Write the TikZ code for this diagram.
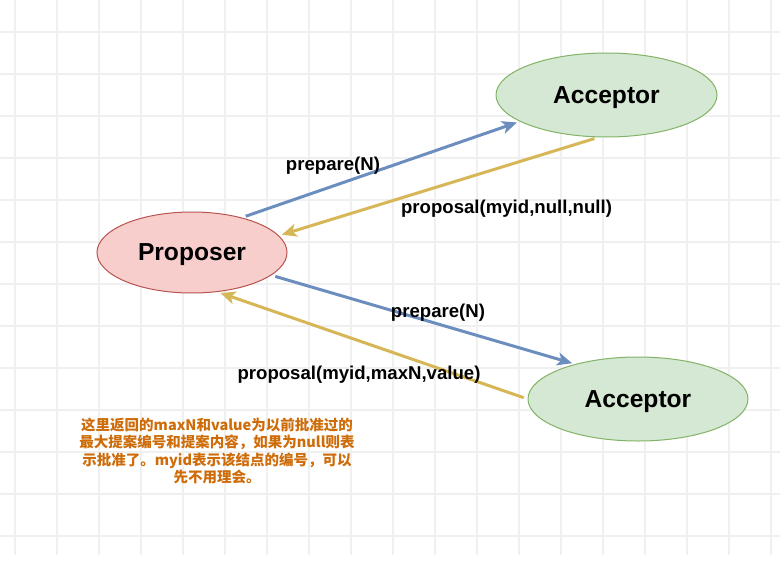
\documentclass[tikz,border=0pt]{standalone}
\usepackage{fontspec}
\setmainfont{Liberation Sans}
\newfontfamily\cjk{Noto Sans CJK SC}
\usepackage{tikz}
\usetikzlibrary{arrows.meta, shapes.geometric}
\definecolor{propfill}{RGB}{248,206,204}
\definecolor{propline}{RGB}{184,84,80}
\definecolor{accfill}{RGB}{213,232,212}
\definecolor{accline}{RGB}{130,179,102}
\definecolor{reqblue}{RGB}{108,142,191}
\definecolor{ansgold}{RGB}{214,182,86}
\definecolor{notebrown}{RGB}{206,108,10}
\definecolor{gridgray}{RGB}{240,240,240}
\tikzstyle{role}=[ellipse, inner sep=0pt, line width=0.5pt, text depth=0pt, font=\fontsize{12.3}{14}\selectfont\bfseries]
\tikzstyle{request}=[draw=reqblue, line width=1.5pt, -{Stealth[length=7.5pt, width=6.5pt, inset=2pt]}, shorten >=1.5pt, shorten <=2pt]
\tikzstyle{answer}=[draw=ansgold, line width=1.5pt, -{Stealth[length=7.5pt, width=6.5pt, inset=2pt]}, shorten >=1.5pt, shorten <=2pt]
\tikzstyle{msg}=[font=\fontsize{9.3}{11}\selectfont\bfseries, inner sep=0pt, text depth=0pt]

\begin{document}
\begin{tikzpicture}[x=0.5pt, y=0.5pt]
	\useasboundingbox (0,0) rectangle (780,569);
	\fill[white] (0,0) rectangle (780,569);
	% grid
	\foreach \gx in {0,...,18}
		\draw[gridgray, line width=0.7pt] (15+42*\gx, 14) -- (15+42*\gx, 569);
	\foreach \gy in {0,...,12}
		\draw[gridgray, line width=0.7pt] (0, 537-42*\gy) -- (780, 537-42*\gy);

	\begin{scope}
		\node (prop) at (192, 316.5)[role, draw=propline, fill=propfill, minimum width=95pt, minimum height=40.5pt] {Proposer};
		\node (acc1) at (606.5, 474)[role, draw=accline, fill=accfill, minimum width=110.5pt, minimum height=42pt] {Acceptor};
		\node (acc2) at (638, 170)[role, draw=accline, fill=accfill, minimum width=110pt, minimum height=42pt] {Acceptor};
	\end{scope}

	\begin{scope}
		\draw[request] (prop.35) -- (acc1.197);
		\draw[answer] (acc1.259) -- (prop.11);
		\draw[request] (prop.-16) -- (acc2.151);
		\draw[answer] (acc2.west) -- (prop.-57);
	\end{scope}

	\node (prep1) at (333, 405)[msg] {prepare(N)};
	\node (null1) at (506.5, 362)[msg] {proposal(myid,null,null)};
	\node (prep2) at (438, 258)[msg] {prepare(N)};
	\node (maxn2) at (359, 196)[msg] {proposal(myid,maxN,value)};

	\node (note) at (217, 118)[font=\cjk\fontsize{7.25}{8.6}\selectfont\bfseries, text=notebrown, align=center, inner sep=0pt] {这里返回的maxN和value为以前批准过的\\最大提案编号和提案内容，如果为null则表\\示批准了。myid表示该结点的编号，可以\\先不用理会。};
\end{tikzpicture}
\end{document}
